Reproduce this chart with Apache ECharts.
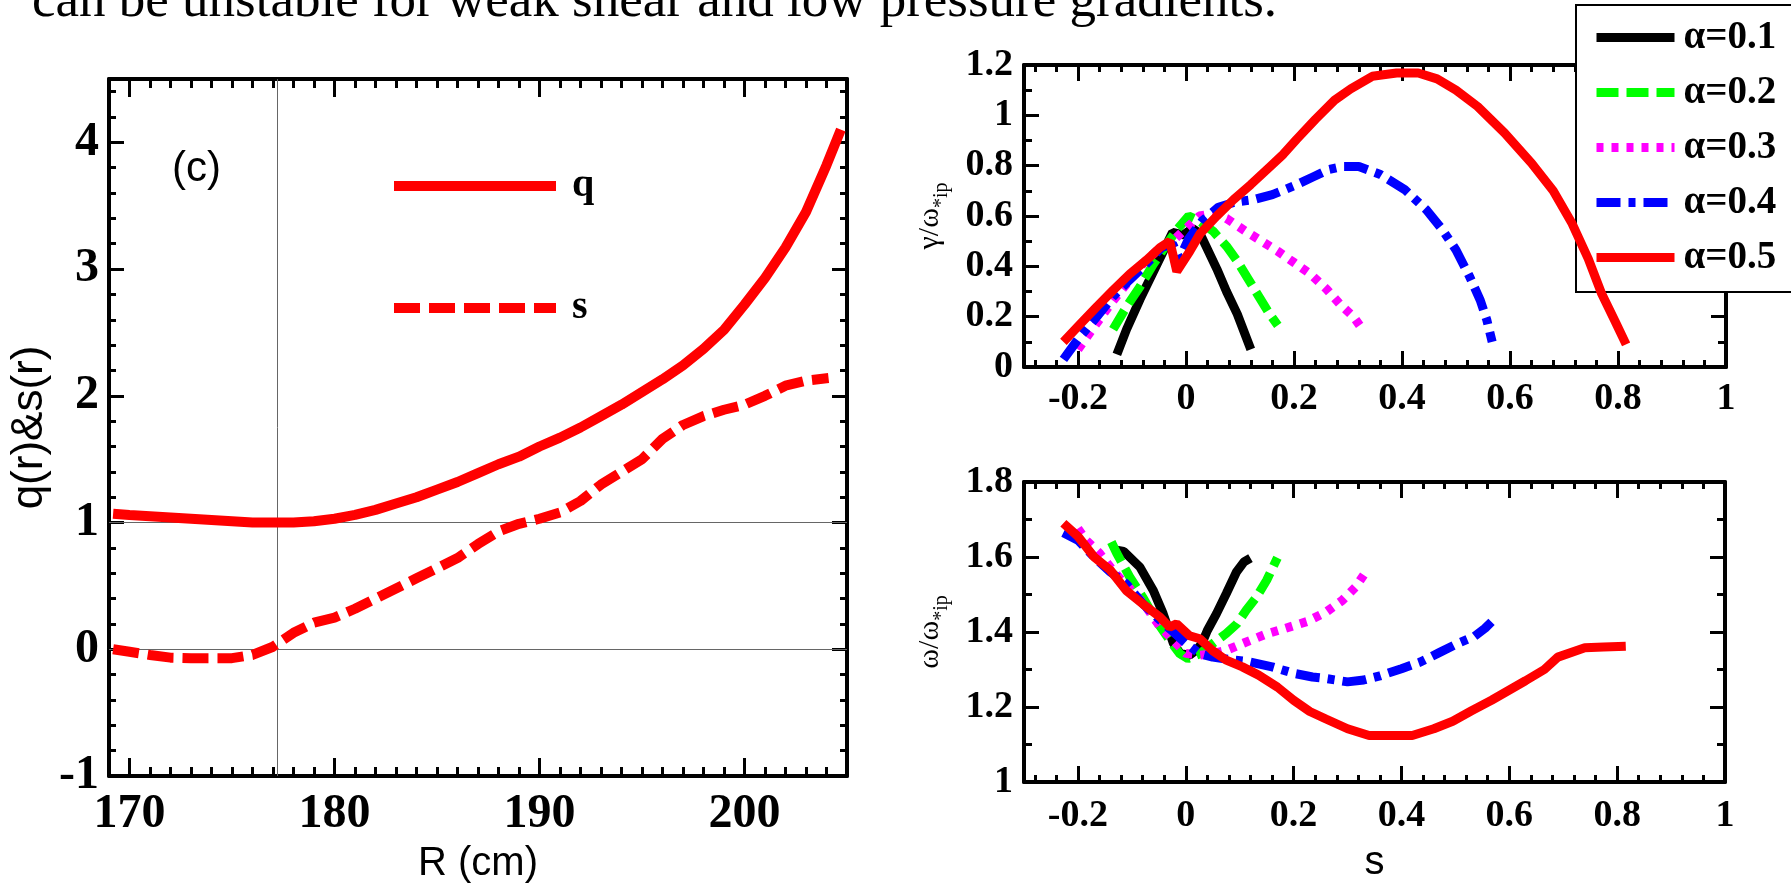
<!DOCTYPE html>
<html>
<head>
<meta charset="utf-8">
<script src="https://cdn.jsdelivr.net/npm/echarts@6/dist/echarts.min.js"></script>
<style>html,body{margin:0;padding:0;background:#fff}#chart{width:1791px;height:889px}</style>
</head>
<body>
<div id="chart"></div>
<script>
// ---------------- DATA ----------------
const headerText = 'can be unstable for weak shear and low pressure gradients.';
const panelTag = '(c)';

// left panel: q(R) and s(R)
const rQ = [169.2,170,171,172,173,174,175,176,177,178,179,180,181,182,183,184,185,186,187,188,189,190,191,192,193,194,195,196,197,198,199,200,201,202,203,204,204.7];
const qValues = [1.07,1.06,1.05,1.04,1.03,1.02,1.01,1.0,1.0,1.0,1.01,1.03,1.06,1.1,1.15,1.2,1.26,1.32,1.39,1.46,1.52,1.6,1.67,1.75,1.84,1.93,2.03,2.13,2.24,2.37,2.52,2.72,2.93,3.17,3.45,3.82,4.1];
const rS = [169.2,170,171,172,173,174,175,176,177,178,179,180,181,182,183,184,185,186,187,188,189,190,191,192,193,194,195,196,197,198,199,200,201,202,203,204.1];
const sValues = [0.0,-0.02,-0.045,-0.066,-0.07,-0.07,-0.07,-0.045,0.02,0.13,0.21,0.25,0.32,0.4,0.48,0.56,0.64,0.72,0.83,0.93,0.99,1.03,1.08,1.17,1.3,1.4,1.5,1.66,1.77,1.84,1.89,1.93,2.0,2.08,2.12,2.14];
const refLineR = [177.2];
const refLinesQ = [0, 1];
const leftSeriesNames = ['q', 's'];

// right panels: growth rate and frequency vs shear s, for five alpha values
const alphaNames = ['α=0.1','α=0.2','α=0.3','α=0.4','α=0.5'];
const gammaA1 = [[-0.128,0.05],[-0.11,0.15],[-0.085,0.27],[-0.06,0.38],[-0.042,0.46],[-0.025,0.535],[-0.005,0.525],[0.012,0.55],[0.026,0.53],[0.057,0.39],[0.075,0.3],[0.095,0.21],[0.12,0.07]];
const gammaA2 = [[-0.135,0.15],[-0.11,0.24],[-0.085,0.32],[-0.06,0.41],[-0.035,0.49],[-0.015,0.55],[0.005,0.6],[0.025,0.58],[0.05,0.54],[0.075,0.48],[0.095,0.42],[0.115,0.35],[0.135,0.28],[0.155,0.21],[0.17,0.165]];
const gammaA3 = [[-0.2,0.07],[-0.17,0.16],[-0.14,0.25],[-0.11,0.33],[-0.08,0.41],[-0.05,0.47],[-0.025,0.5],[0.0,0.55],[0.025,0.6],[0.05,0.61],[0.075,0.59],[0.11,0.54],[0.14,0.5],[0.17,0.46],[0.2,0.415],[0.23,0.37],[0.26,0.31],[0.285,0.25],[0.31,0.2],[0.33,0.14]];
const gammaA4 = [[-0.227,0.03],[-0.2,0.11],[-0.165,0.2],[-0.135,0.28],[-0.105,0.345],[-0.073,0.41],[-0.045,0.475],[-0.025,0.49],[-0.012,0.43],[0.005,0.51],[0.03,0.58],[0.06,0.635],[0.09,0.655],[0.125,0.665],[0.16,0.685],[0.2,0.72],[0.235,0.755],[0.265,0.785],[0.29,0.797],[0.32,0.797],[0.36,0.765],[0.405,0.705],[0.445,0.625],[0.475,0.545],[0.5,0.465],[0.525,0.36],[0.545,0.265],[0.557,0.187],[0.567,0.1]];
const gammaA5 = [[-0.227,0.1],[-0.196,0.17],[-0.165,0.24],[-0.135,0.305],[-0.104,0.37],[-0.073,0.425],[-0.048,0.475],[-0.03,0.5],[-0.017,0.38],[0.007,0.46],[0.026,0.53],[0.057,0.6],[0.088,0.665],[0.12,0.725],[0.155,0.795],[0.18,0.845],[0.205,0.905],[0.24,0.985],[0.275,1.06],[0.305,1.105],[0.345,1.155],[0.39,1.168],[0.43,1.168],[0.465,1.145],[0.5,1.1],[0.54,1.035],[0.59,0.93],[0.64,0.81],[0.68,0.7],[0.715,0.57],[0.745,0.43],[0.77,0.29],[0.795,0.18],[0.815,0.09]];
const omegaA1 = [[-0.128,1.618],[-0.115,1.615],[-0.085,1.573],[-0.06,1.51],[-0.042,1.449],[-0.023,1.37],[-0.01,1.342],[0.007,1.338],[0.02,1.352],[0.03,1.37],[0.04,1.404],[0.057,1.449],[0.075,1.502],[0.094,1.56],[0.108,1.587],[0.12,1.597]];
const omegaA2 = [[-0.138,1.64],[-0.128,1.61],[-0.104,1.547],[-0.08,1.493],[-0.055,1.431],[-0.03,1.378],[-0.011,1.342],[0.004,1.329],[0.026,1.342],[0.05,1.369],[0.075,1.396],[0.095,1.422],[0.112,1.458],[0.131,1.493],[0.15,1.538],[0.17,1.598]];
const omegaA3 = [[-0.2,1.676],[-0.185,1.645],[-0.16,1.61],[-0.13,1.555],[-0.1,1.51],[-0.075,1.47],[-0.048,1.415],[-0.023,1.378],[0.0,1.343],[0.025,1.338],[0.05,1.342],[0.075,1.351],[0.11,1.372],[0.15,1.395],[0.185,1.41],[0.225,1.428],[0.26,1.453],[0.29,1.484],[0.315,1.52],[0.332,1.556]];
const omegaA4 = [[-0.227,1.665],[-0.2,1.645],[-0.17,1.6],[-0.14,1.56],[-0.11,1.528],[-0.08,1.476],[-0.048,1.432],[-0.023,1.4],[0.0,1.37],[0.026,1.342],[0.05,1.333],[0.09,1.325],[0.12,1.32],[0.16,1.307],[0.2,1.29],[0.235,1.28],[0.26,1.276],[0.3,1.267],[0.33,1.272],[0.36,1.283],[0.4,1.302],[0.435,1.32],[0.47,1.345],[0.505,1.37],[0.535,1.388],[0.555,1.41],[0.567,1.427]];
const omegaA5 = [[-0.227,1.69],[-0.2,1.655],[-0.17,1.6],[-0.14,1.565],[-0.11,1.51],[-0.08,1.475],[-0.048,1.44],[-0.03,1.413],[-0.017,1.422],[0.007,1.39],[0.026,1.382],[0.05,1.35],[0.075,1.325],[0.105,1.307],[0.135,1.285],[0.17,1.253],[0.2,1.218],[0.23,1.188],[0.26,1.168],[0.3,1.142],[0.34,1.124],[0.38,1.124],[0.42,1.124],[0.46,1.142],[0.495,1.162],[0.53,1.19],[0.567,1.218],[0.63,1.27],[0.665,1.3],[0.69,1.333],[0.74,1.358],[0.775,1.36],[0.816,1.362]];

// axis ranges / steps
const rRange = [169, 205];
const qsRange = [-1, 4.5];
const shearRange = [-0.3, 1];
const gammaRange = [0, 1.2];
const omegaRange = [1, 1.8];

// ---------------- STYLE / BUILD ----------------
const SERIF = '"Liberation Serif","Times New Roman",serif';
const SANS = '"Liberation Sans",Arial,sans-serif';
const gammaSets = [gammaA1, gammaA2, gammaA3, gammaA4, gammaA5];
const omegaSets = [omegaA1, omegaA2, omegaA3, omegaA4, omegaA5];
const alphaColors = ['#000000', '#00ff00', '#ff00ff', '#0000ff', '#ff0000'];
const alphaDash = ['solid', [22, 8], [7, 8], [24, 8, 7, 8], 'solid'];

function valueAxis(opts) {
  const a = {
    type: 'value', gridIndex: opts.grid, position: opts.pos,
    min: opts.range[0], max: opts.range[1],
    minInterval: opts.step, maxInterval: opts.step, splitNumber: 5,
    axisLine: { show: !!opts.line, onZero: false, lineStyle: { color: '#000', width: 4 } },
    axisTick: { show: true, inside: true, length: opts.tick, lineStyle: { color: '#000', width: 3 } },
    axisLabel: { show: false },
    splitLine: { show: false },
    silent: true
  };
  if (opts.label) a.axisLabel = Object.assign({ show: true, interval: 0, showMinLabel: true, showMaxLabel: true, color: '#000', fontFamily: SERIF, fontWeight: 'bold' }, opts.label);
  if (opts.name) Object.assign(a, opts.name);
  return a;
}

const xAxes = [
  // grid 0 (left)
  valueAxis({ grid: 0, pos: 'bottom', range: rRange, step: 10, tick: 18, line: true,
    label: { fontSize: 48, margin: 15, showMinLabel: false, showMaxLabel: false },
    name: { name: 'R (cm)', nameLocation: 'middle', nameGap: 68, nameTextStyle: { fontFamily: SANS, fontSize: 40, color: '#000' } } }),
  valueAxis({ grid: 0, pos: 'top', range: rRange, step: 10, tick: 18, line: true }),
  valueAxis({ grid: 0, pos: 'bottom', range: rRange, step: 1, tick: 9 }),
  valueAxis({ grid: 0, pos: 'top', range: rRange, step: 1, tick: 9 }),
  // grid 1 (top right)
  valueAxis({ grid: 1, pos: 'bottom', range: shearRange, step: 0.2, tick: 16, line: true,
    label: { fontSize: 38, margin: 13, showMinLabel: false } }),
  valueAxis({ grid: 1, pos: 'top', range: shearRange, step: 0.2, tick: 16, line: true }),
  valueAxis({ grid: 1, pos: 'bottom', range: shearRange, step: 0.04, tick: 7 }),
  valueAxis({ grid: 1, pos: 'top', range: shearRange, step: 0.04, tick: 7 }),
  // grid 2 (bottom right)
  valueAxis({ grid: 2, pos: 'bottom', range: shearRange, step: 0.2, tick: 16, line: true,
    label: { fontSize: 38, margin: 15, showMinLabel: false },
    name: { name: 's', nameLocation: 'middle', nameGap: 61, nameTextStyle: { fontFamily: SANS, fontSize: 40, color: '#000' } } }),
  valueAxis({ grid: 2, pos: 'top', range: shearRange, step: 0.2, tick: 16, line: true }),
  valueAxis({ grid: 2, pos: 'bottom', range: shearRange, step: 0.04, tick: 7 }),
  valueAxis({ grid: 2, pos: 'top', range: shearRange, step: 0.04, tick: 7 })
];

const subRich = {
  a: { fontFamily: SERIF, fontSize: 30, lineHeight: 44, verticalAlign: 'middle', color: '#000' },
  b: { fontFamily: SERIF, fontSize: 20, lineHeight: 20, verticalAlign: 'bottom', color: '#000' }
};

const yAxes = [
  valueAxis({ grid: 0, pos: 'left', range: qsRange, step: 1, tick: 15, line: true,
    label: { fontSize: 48, margin: 10, showMaxLabel: false },
    name: { name: 'q(r)&s(r)', nameLocation: 'middle', nameRotate: 90, nameGap: 57, nameTextStyle: { fontFamily: SANS, fontSize: 44, color: '#000' } } }),
  valueAxis({ grid: 0, pos: 'right', range: qsRange, step: 1, tick: 15, line: true }),
  valueAxis({ grid: 0, pos: 'left', range: qsRange, step: 0.2, tick: 7 }),
  valueAxis({ grid: 0, pos: 'right', range: qsRange, step: 0.2, tick: 7 }),

  valueAxis({ grid: 1, pos: 'left', range: gammaRange, step: 0.2, tick: 15, line: true,
    label: { fontSize: 38, margin: 11 },
    name: { name: '{a|γ/ω}{b|*ip}', nameLocation: 'middle', nameRotate: 90, nameGap: 72, nameTextStyle: { rich: subRich } } }),
  valueAxis({ grid: 1, pos: 'right', range: gammaRange, step: 0.2, tick: 15, line: true }),
  valueAxis({ grid: 1, pos: 'left', range: gammaRange, step: 0.1, tick: 8 }),
  valueAxis({ grid: 1, pos: 'right', range: gammaRange, step: 0.1, tick: 8 }),

  valueAxis({ grid: 2, pos: 'left', range: omegaRange, step: 0.2, tick: 15, line: true,
    label: { fontSize: 38, margin: 11 },
    name: { name: '{a|ω/ω}{b|*ip}', nameLocation: 'middle', nameRotate: 90, nameGap: 72, nameTextStyle: { rich: subRich } } }),
  valueAxis({ grid: 2, pos: 'right', range: omegaRange, step: 0.2, tick: 15, line: true }),
  valueAxis({ grid: 2, pos: 'left', range: omegaRange, step: 0.1, tick: 8 }),
  valueAxis({ grid: 2, pos: 'right', range: omegaRange, step: 0.1, tick: 8 })
];

const series = [];
series.push({
  type: 'line', name: leftSeriesNames[0], xAxisIndex: 0, yAxisIndex: 0, symbol: 'none',
  data: rQ.map((r, i) => [r, qValues[i]]),
  lineStyle: { color: '#ff0000', width: 10, type: 'solid' }, itemStyle: { color: '#ff0000' }, z: 3,
  markLine: {
    silent: true, symbol: 'none', z: 1, label: { show: false }, animation: false,
    lineStyle: { color: '#666', width: 1, type: 'solid' },
    data: refLineR.map(v => ({ xAxis: v })).concat(refLinesQ.map(v => ({ yAxis: v })))
  }
});
series.push({
  type: 'line', name: leftSeriesNames[1], xAxisIndex: 0, yAxisIndex: 0, symbol: 'none',
  data: rS.map((r, i) => [r, sValues[i]]),
  lineStyle: { color: '#ff0000', width: 10, type: [26, 9] }, itemStyle: { color: '#ff0000' }, z: 3
});
alphaNames.forEach((nm, k) => {
  series.push({
    type: 'line', name: nm, xAxisIndex: 4, yAxisIndex: 4, symbol: 'none', data: gammaSets[k],
    lineStyle: { color: alphaColors[k], width: 9, type: alphaDash[k] }, itemStyle: { color: alphaColors[k] }, z: 3 + k
  });
});
alphaNames.forEach((nm, k) => {
  series.push({
    type: 'line', name: nm, xAxisIndex: 8, yAxisIndex: 8, symbol: 'none', data: omegaSets[k],
    lineStyle: { color: alphaColors[k], width: 9, type: alphaDash[k] }, itemStyle: { color: alphaColors[k] }, z: 3 + k
  });
});

const option = {
  animation: false,
  backgroundColor: '#ffffff',
  grid: [
    { left: 109, top: 79, width: 738, height: 697, outerBoundsMode: 'none', containLabel: false },
    { left: 1024, top: 65, width: 702, height: 302, outerBoundsMode: 'none', containLabel: false },
    { left: 1024, top: 482, width: 701, height: 300, outerBoundsMode: 'none', containLabel: false }
  ],
  xAxis: xAxes,
  yAxis: yAxes,
  legend: [
    {
      data: leftSeriesNames, orient: 'vertical', left: 389, top: 164, padding: 0,
      itemWidth: 162, itemHeight: 10, itemGap: 78, selectedMode: false,
      itemStyle: { opacity: 0 }, lineStyle: { width: 10 },
      textStyle: { fontFamily: SERIF, fontWeight: 'bold', fontSize: 40, lineHeight: 40, color: '#000', padding: [4, 0, 0, 11] }
    },
    {
      data: alphaNames, orient: 'vertical', left: 1576, top: 5, padding: [13, 40, 15, 16],
      itemWidth: 78, itemHeight: 10, itemGap: 16, selectedMode: false,
      backgroundColor: '#ffffff', borderColor: '#000', borderWidth: 2, borderRadius: 0,
      itemStyle: { opacity: 0 }, lineStyle: { width: 9 },
      textStyle: { fontFamily: SERIF, fontWeight: 'bold', fontSize: 39, lineHeight: 39, color: '#000', padding: [0, 0, 0, 4] }
    }
  ],
  graphic: [
    { type: 'text', left: 32, top: -24, silent: true, style: { text: headerText, font: '53px ' + SERIF, fill: '#000' } },
    { type: 'text', left: 172, top: 148, silent: true, style: { text: panelTag, font: '42px ' + SANS, fill: '#000' } }
  ],
  series: series
};

const chart = echarts.init(document.getElementById('chart'), null, { renderer: 'canvas' });
chart.setOption(option);
</script>
</body>
</html>
